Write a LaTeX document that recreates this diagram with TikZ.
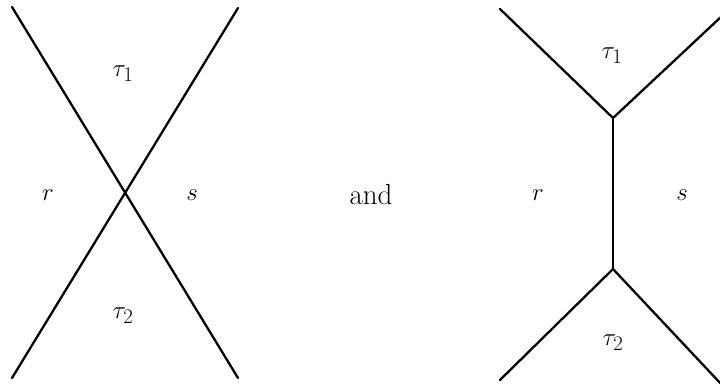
\documentclass[tikz,border=0pt]{standalone}
\begin{document}
\begin{tikzpicture}[x=1pt,y=-1pt,
  edge/.style={line width=2.3pt,line cap=round},
  lbl/.style={inner sep=0pt,font=\fontsize{29}{34}\selectfont}]
\useasboundingbox (0,0) rectangle (720,383);
% left: crossing
\coordinate (a1) at (12,7);
\coordinate (a2) at (238,378);
\coordinate (b1) at (238,8);
\coordinate (b2) at (12,378);
\draw[edge] (a1) -- (a2);
\draw[edge] (b1) -- (b2);
\node[lbl] (t1) at (123,74) {$\tau_1$};
\node[lbl] (t2) at (123,316) {$\tau_2$};
\node[lbl] (r1) at (48,195) {$r$};
\node[lbl] (s1) at (192,195) {$s$};
% middle
\node[lbl] (and) at (371,195) {and};
% right: two vertices
\coordinate (u) at (613,118);
\coordinate (d) at (613,269);
\coordinate (ul) at (500,9);
\coordinate (ur) at (722,16);
\coordinate (dl) at (500,380);
\coordinate (dr) at (722,385);
\begin{scope}
\clip (0,0) rectangle (720,383);
\draw[edge] (ul) -- (u) -- (ur);
\draw[edge] (u) -- (d);
\draw[edge] (dl) -- (d) -- (dr);
\end{scope}
\node[lbl] (t1r) at (612,56) {$\tau_1$};
\node[lbl] (t2r) at (613,343) {$\tau_2$};
\node[lbl] (r2) at (538,195) {$r$};
\node[lbl] (s2) at (682,195) {$s$};
\end{tikzpicture}
\end{document}
